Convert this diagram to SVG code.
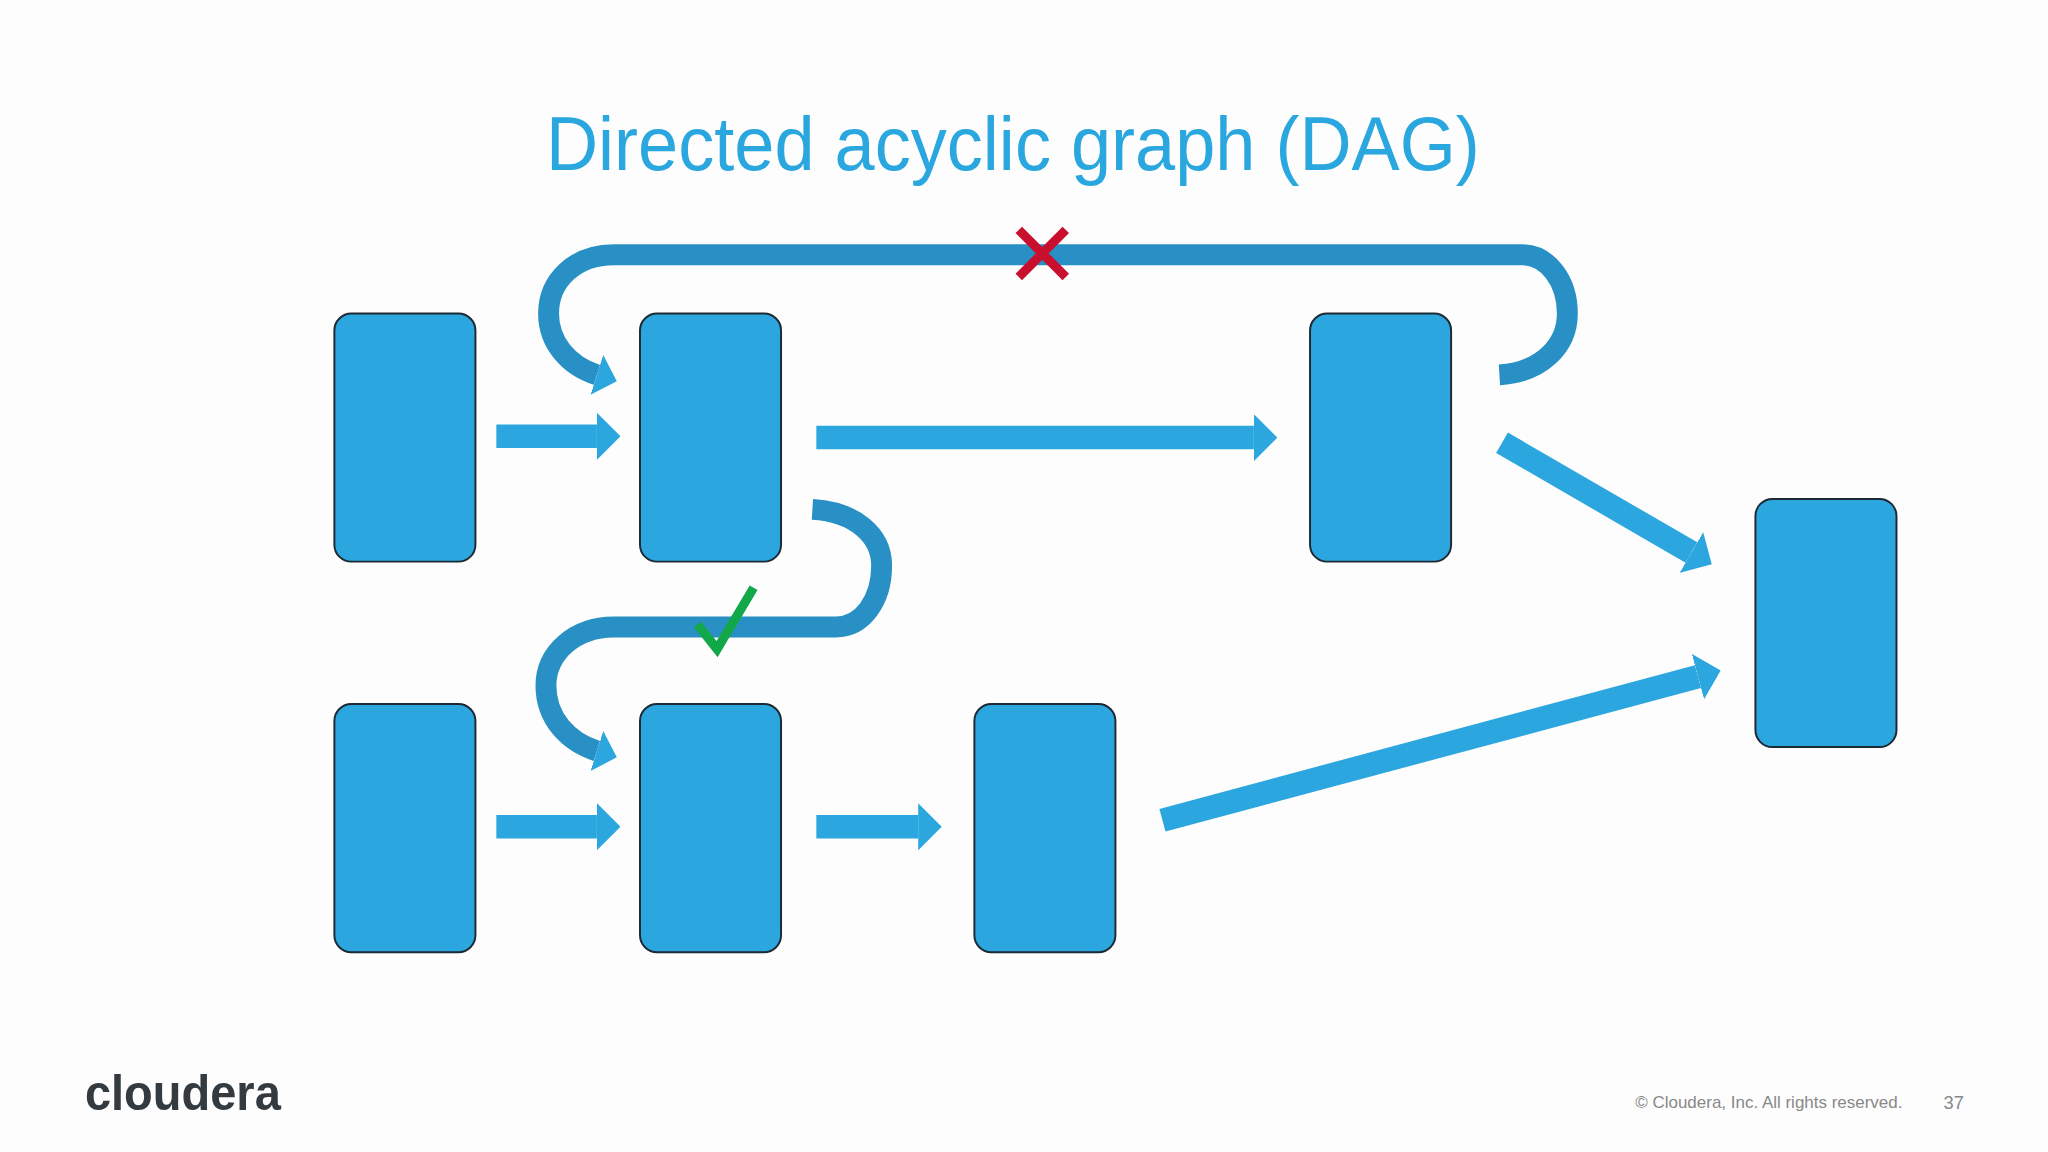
<svg xmlns="http://www.w3.org/2000/svg" width="2048" height="1152" viewBox="0 0 2048 1152">
<style>
.n{fill:#2ca6de;stroke:#1d2a33;stroke-width:1.5}
.a{stroke:#2ca6de;stroke-width:18;fill:none;marker-end:url(#h)}
.c{stroke:#2890c4;stroke-width:16;fill:none;marker-end:url(#h2)}
</style>
<defs>
<marker id="h" viewBox="0 0 10 20" refX="0" refY="10" markerWidth="1" markerHeight="2" orient="auto"><path d="M0,0 L10,10 L0,20 z" fill="#2ca6de"/></marker>
<marker id="h2" viewBox="0 0 10 20" refX="0" refY="10" markerWidth="1" markerHeight="2" orient="auto"><path d="M0,0 L10,10 L0,20 z" fill="#2ca6de"/></marker>
</defs>
<rect width="2048" height="1152" fill="#fdfdfd"/>
<g transform="scale(1.30612)">
<text x="418" y="130" textLength="715" lengthAdjust="spacingAndGlyphs" font-family="Liberation Sans, Arial, sans-serif" font-size="58" fill="#2aa7df">Directed acyclic graph (DAG)</text>
<g id="connectors">
<line class="a" x1="380" y1="334" x2="457" y2="334"/>
<line class="a" x1="625" y1="335" x2="960" y2="335"/>
<line class="a" x1="380" y1="633" x2="457" y2="633"/>
<line class="a" x1="625" y1="633" x2="703" y2="633"/>
<line class="a" x1="1150" y1="339" x2="1295" y2="423"/>
<line class="a" x1="890" y1="628" x2="1300" y2="518"/>
<path class="c" d="M1148,287 C1180,285 1200,265 1200,240 C1200,215 1185,195 1165,195 L470,195 C440,195 420,215 420,240 C420,262 435,280 457,287"/>
<path class="c" d="M622,390 C655,392 675,410 675,433 C675,460 660,480 640,480 L470,480 C440,480 418,500 418,525 C418,550 435,568 457,575"/>
</g>
<g id="n1"><rect class="n" x="256" y="240" width="108" height="190" rx="13"/></g>
<g id="n2"><rect class="n" x="490" y="240" width="108" height="190" rx="13"/></g>
<g id="n3"><rect class="n" x="1003" y="240" width="108" height="190" rx="13"/></g>
<g id="n4"><rect class="n" x="256" y="539" width="108" height="190" rx="13"/></g>
<g id="n5"><rect class="n" x="490" y="539" width="108" height="190" rx="13"/></g>
<g id="n6"><rect class="n" x="746" y="539" width="108" height="190" rx="13"/></g>
<g id="n7"><rect class="n" x="1344" y="382" width="108" height="190" rx="13"/></g>
<path d="M780,176 L816,212 M816,176 L780,212" stroke="#c8102e" stroke-width="7"/>
<path d="M534,478 L549,497 L577,450" stroke="#12a84a" stroke-width="7" fill="none"/>
<text x="65" y="850" textLength="150" lengthAdjust="spacingAndGlyphs" font-family="Liberation Sans, Arial, sans-serif" font-weight="bold" font-size="38" fill="#333a40">cloudera</text>
<text x="1252" y="848" font-family="Liberation Sans, Arial, sans-serif" font-size="13" fill="#888">© Cloudera, Inc. All rights reserved.</text>
<text x="1488" y="849" font-family="Liberation Sans, Arial, sans-serif" font-size="14" fill="#888">37</text>
</g>
</svg>
